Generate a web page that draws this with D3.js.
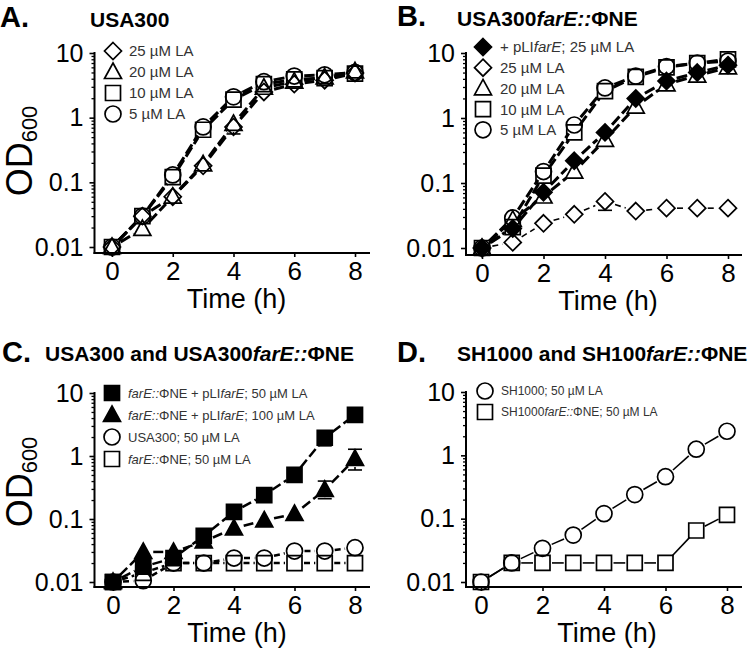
<!DOCTYPE html>
<html><head><meta charset="utf-8">
<script src="https://cdn.jsdelivr.net/npm/d3@7"></script>
<style>body{margin:0;background:#fff}svg{display:block}</style>
</head><body>
<svg id="c" width="750" height="653"></svg>
<script>
// ---------- DATA ----------
const hours = [0, 1, 2, 3, 4, 5, 6, 7, 8];
const xTicks = [0, 2, 4, 6, 8];
const yTicks = [0.01, 0.1, 1, 10];
const yTickLabels = ["0.01", "0.1", "1", "10"];
const yMinor = [0.02,0.03,0.04,0.05,0.06,0.07,0.08,0.09,0.2,0.3,0.4,0.5,0.6,0.7,0.8,0.9,2,3,4,5,6,7,8,9];

const panelLetters = ["A.", "B.", "C.", "D."];
const panelTitles = ["USA300", "USA300<i>farE::</i>ΦNE", "USA300 and USA300<i>farE::</i>ΦNE", "SH1000 and SH100<i>farE::</i>ΦNE"];
const xLabel = "Time (h)";

// Panel A: USA300
const labelsA = ["25 µM LA", "20 µM LA", "10 µM LA", "5 µM LA"];
const a25 = [0.01, 0.03, 0.06, 0.18, 0.72, 2.5, 3.3, 3.8, 4.9];
const a20 = [0.01, 0.019, 0.06, 0.19, 0.8, 2.9, 3.6, 4.2, 5.2];
const a10 = [0.01, 0.03, 0.12, 0.65, 1.9, 3.3, 3.9, 4.1, 4.8];
const a5  = [0.01, 0.03, 0.13, 0.72, 2.1, 3.6, 4.4, 4.6, 5.0];
const errA20 = [[4, 0.56, 0.85]];

// Panel B: USA300farE::ΦNE
const labelsB = ["+ pLI<i>farE</i>; 25 µM LA", "25 µM LA", "20 µM LA", "10 µM LA", "5 µM LA"];
const bPli25 = [0.01, 0.02, 0.072, 0.22, 0.6, 2.0, 3.7, 5.0, 6.5];
const b25    = [0.01, 0.0122, 0.024, 0.033, 0.052, 0.037, 0.041, 0.041, 0.041];
const b20    = [0.01, 0.027, 0.062, 0.15, 0.46, 1.5, 3.3, 4.5, 6.0];
const b10    = [0.01, 0.021, 0.13, 0.6, 2.6, 4.3, 6.0, 7.0, 8.0];
const b5     = [0.01, 0.029, 0.15, 0.78, 2.9, 4.4, 6.2, 7.0, 7.5];
const errB25 = [[4, 0.038, 0.056]];

// Panel C: USA300 and USA300farE::ΦNE
const labelsC = ["<i>farE::</i>ΦNE + pLI<i>farE</i>; 50 µM LA", "<i>farE::</i>ΦNE + pLI<i>farE</i>; 100 µM LA", "USA300; 50 µM LA", "<i>farE::</i>ΦNE; 50 µM LA"];
const cPli50  = [0.01, 0.0175, 0.024, 0.054, 0.13, 0.24, 0.5, 1.95, 4.5];
const cPli100 = [0.01, 0.03, 0.03, 0.044, 0.071, 0.095, 0.12, 0.29, 0.9];
const cUSA50  = [0.01, 0.0105, 0.02, 0.02, 0.024, 0.024, 0.031, 0.031, 0.035];
const cFar50  = [0.01, 0.014, 0.02, 0.02, 0.02, 0.02, 0.02, 0.02, 0.02];
const errCPli50 = [[7, 1.45, 2.0]];
const errCPli100 = [[7, 0.21, 0.4], [8, 0.6, 1.28]];

// Panel D: SH1000 and SH1000farE::ΦNE
const labelsD = ["SH1000; 50 µM LA", "SH1000<i>farE::</i>ΦNE; 50 µM LA"];
const dSH50  = [0.01, 0.02, 0.034, 0.055, 0.12, 0.24, 0.46, 1.25, 2.4];
const dFar50 = [0.01, 0.02, 0.02, 0.02, 0.02, 0.02, 0.02, 0.065, 0.115];

// ---------- LAYOUT / STYLE ----------
const FONT = "'Liberation Sans', Arial, Helvetica, sans-serif";
const svg = d3.select("#c");

const panels = [
  { letter: 0, title: 0, lx: 0, ly: 27, tx: 90, ty: 27,
    ax: 94.5, x0: 112, x8: 355, xr: 370, y10: 53, y001: 247, yb: 253, ylab: [32, 151],
    leg: { mx: 113, tx: 129, y0: 51, step: 21, fs: 15 },
    series: [
      { v: a25, lab: labelsA[0], sym: "diamond", fill: false, dash: "11,4", w: 3 },
      { v: a20, lab: labelsA[1], sym: "triangle", fill: false, dash: "11,4", w: 3, err: errA20 },
      { v: a10, lab: labelsA[2], sym: "square", fill: false, dash: "11,4", w: 3 },
      { v: a5,  lab: labelsA[3], sym: "circle", fill: false, dash: "11,4", w: 3 }
    ] },
  { letter: 1, title: 1, lx: 397, ly: 26, tx: 457, ty: 26,
    ax: 466, x0: 482, x8: 728, xr: 742, y10: 53, y001: 248, yb: 255, ylab: null,
    leg: { mx: 483, tx: 500, y0: 47, step: 20.7, fs: 15 },
    series: [
      { v: bPli25, lab: labelsB[0], sym: "diamond", fill: true, dash: "11,4", w: 3 },
      { v: b25, lab: labelsB[1], sym: "diamond", fill: false, dash: "6,4", w: 1.6, err: errB25 },
      { v: b20, lab: labelsB[2], sym: "triangle", fill: false, dash: "11,4", w: 3 },
      { v: b10, lab: labelsB[3], sym: "square", fill: false, dash: "11,4", w: 3 },
      { v: b5,  lab: labelsB[4], sym: "circle", fill: false, dash: "11,4", w: 3 }
    ] },
  { letter: 2, title: 2, lx: 2, ly: 362, tx: 45, ty: 361,
    ax: 94.5, x0: 113, x8: 355, xr: 370, y10: 393, y001: 582, yb: 587, ylab: [32, 482],
    leg: { mx: 112, tx: 128, y0: 393, step: 22, fs: 13 },
    series: [
      { v: cPli50, lab: labelsC[0], sym: "square", fill: true, dash: "10,4", w: 2.5, err: errCPli50 },
      { v: cPli100, lab: labelsC[1], sym: "triangle", fill: true, dash: "10,4", w: 2.5, err: errCPli100 },
      { v: cUSA50, lab: labelsC[2], sym: "circle", fill: false, dash: "6,4", w: 2.5 },
      { v: cFar50, lab: labelsC[3], sym: "square", fill: false, dash: "6,4", w: 2.5 }
    ] },
  { letter: 3, title: 3, lx: 397, ly: 362, tx: 457, ty: 361,
    ax: 466, x0: 481, x8: 727, xr: 742, y10: 392, y001: 582, yb: 587, ylab: null,
    leg: { mx: 485, tx: 501, y0: 391, step: 21, fs: 12 },
    series: [
      { v: dSH50, lab: labelsD[0], sym: "circle", fill: false, dash: null, w: 1.6 },
      { v: dFar50, lab: labelsD[1], sym: "square", fill: false, dash: null, w: 1.6 }
    ] }
];

function symPath(t) {
  if (t === "circle") return d3.symbol(d3.symbolCircle, Math.PI * 8 * 8)();
  if (t === "square") return "M-7.5,-7.5H7.5V7.5H-7.5Z";
  if (t === "diamond") return "M0,-8.5L8.5,0L0,8.5L-8.5,0Z";
  if (t === "triangle") return "M0,-9L8.5,6.5H-8.5Z";
}
const symR = { circle: 8, square: 7.5, diamond: 8.5, triangle: 8 };

function richText(sel, str) {
  str.split(/(<i>.*?<\/i>)/).filter(s => s.length).forEach(s => {
    const it = s.startsWith("<i>");
    sel.append("tspan").attr("font-style", it ? "italic" : null).text(it ? s.slice(3, -4) : s);
  });
}

panels.forEach(p => {
  const g = svg.append("g");
  const x = d3.scaleLinear().domain([0, 8]).range([p.x0, p.x8]);
  const y = d3.scaleLog().domain([0.01, 10]).range([p.y001, p.y10]);

  // letter + title
  g.append("text").attr("x", p.lx).attr("y", p.ly).attr("font-family", FONT)
    .attr("font-weight", "bold").attr("font-size", 29).text(panelLetters[p.letter]);
  const tt = g.append("text").attr("x", p.tx).attr("y", p.ty).attr("font-family", FONT)
    .attr("font-weight", "bold").attr("font-size", 21);
  richText(tt, panelTitles[p.title]);

  // y axis
  const ya = g.append("g").attr("transform", `translate(${p.ax},0)`)
    .call(d3.axisLeft(y).tickValues(yTicks).tickSize(5).tickPadding(6)
      .tickFormat((d, i) => yTickLabels[i]));
  ya.select(".domain").remove();
  ya.selectAll("line").attr("stroke-width", 1.6);
  ya.selectAll("text").attr("font-family", FONT).attr("font-size", 25).attr("fill", "#000");
  const ym = g.append("g").attr("transform", `translate(${p.ax},0)`)
    .call(d3.axisLeft(y).tickValues(yMinor).tickSize(3).tickFormat(""));
  ym.select(".domain").remove();
  ym.selectAll("line").attr("stroke-width", 1.3);

  // x axis
  const xa = g.append("g").attr("transform", `translate(0,${p.yb})`)
    .call(d3.axisBottom(x).tickValues(xTicks).tickSize(4).tickPadding(5));
  xa.select(".domain").remove();
  xa.selectAll("line").attr("stroke-width", 1.6);
  xa.selectAll("text").attr("font-family", FONT).attr("font-size", 26).attr("fill", "#000");

  g.append("line").attr("x1", p.ax).attr("x2", p.ax).attr("y1", y(10) - 1).attr("y2", p.yb + 1)
    .attr("stroke", "#000").attr("stroke-width", 2);
  g.append("line").attr("x1", p.ax - 1).attr("x2", p.xr).attr("y1", p.yb).attr("y2", p.yb)
    .attr("stroke", "#000").attr("stroke-width", 2);

  // axis titles
  g.append("text").attr("x", (p.x0 + p.x8) / 2 + 3).attr("y", p.yb + 55).attr("text-anchor", "middle")
    .attr("font-family", FONT).attr("font-size", 27).text(xLabel);
  if (p.ylab) {
    const yl = g.append("text").attr("transform", `translate(${p.ylab[0]},${p.ylab[1]}) rotate(-90)`)
      .attr("text-anchor", "middle").attr("font-family", FONT);
    yl.append("tspan").attr("font-size", 36).text("OD");
    yl.append("tspan").attr("font-size", 22).attr("dy", 5).text("600");
  }

  // series (reverse so first legend entry on top)
  const sg = g.append("g");
  p.series.slice().reverse().forEach(s => {
    const pts = hours.map((h, i) => [x(h), y(s.v[i])]);
    const gap = symR[s.sym] + 2;
    for (let i = 0; i < pts.length - 1; i++) {
      const [x1, y1] = pts[i], [x2, y2] = pts[i + 1];
      const dx = x2 - x1, dy = y2 - y1, L = Math.hypot(dx, dy);
      if (L <= 2 * gap + 1) continue;
      const ux = dx / L, uy = dy / L;
      sg.append("line")
        .attr("x1", x1 + ux * gap).attr("y1", y1 + uy * gap)
        .attr("x2", x2 - ux * gap).attr("y2", y2 - uy * gap)
        .attr("stroke", "#000").attr("stroke-width", s.w)
        .attr("stroke-dasharray", s.dash);
    }
    (s.err || []).forEach(e => {
      const i = hours.indexOf(e[0]);
      const cx = x(e[0]), cy = y(s.v[i]), r = symR[s.sym];
      const yl = y(e[1]), yh = y(e[2]);
      if (yl > cy + r) {
        sg.append("line").attr("x1", cx).attr("x2", cx).attr("y1", cy + r).attr("y2", yl).attr("stroke", "#000").attr("stroke-width", 1.6);
        sg.append("line").attr("x1", cx - 7).attr("x2", cx + 7).attr("y1", yl).attr("y2", yl).attr("stroke", "#000").attr("stroke-width", 1.6);
      }
      if (yh < cy - r) {
        sg.append("line").attr("x1", cx).attr("x2", cx).attr("y1", cy - r).attr("y2", yh).attr("stroke", "#000").attr("stroke-width", 1.6);
        sg.append("line").attr("x1", cx - 7).attr("x2", cx + 7).attr("y1", yh).attr("y2", yh).attr("stroke", "#000").attr("stroke-width", 1.6);
      }
    });
    pts.forEach(pt => {
      sg.append("path").attr("d", symPath(s.sym)).attr("transform", `translate(${pt[0]},${pt[1]})`)
        .attr("fill", s.fill ? "#000" : "none").attr("stroke", "#000").attr("stroke-width", 1.7);
    });
  });

  // legend
  p.series.forEach((s, i) => {
    const ly = p.leg.y0 + i * p.leg.step;
    g.append("path").attr("d", symPath(s.sym)).attr("transform", `translate(${p.leg.mx},${ly})`)
      .attr("fill", s.fill ? "#000" : "#fff").attr("stroke", "#000").attr("stroke-width", 1.7);
    const t = g.append("text").attr("x", p.leg.tx).attr("y", ly).attr("dy", "0.36em")
      .attr("font-family", FONT).attr("font-size", p.leg.fs).attr("fill", "#333");
    richText(t, s.lab);
  });
});
</script>
</body></html>
